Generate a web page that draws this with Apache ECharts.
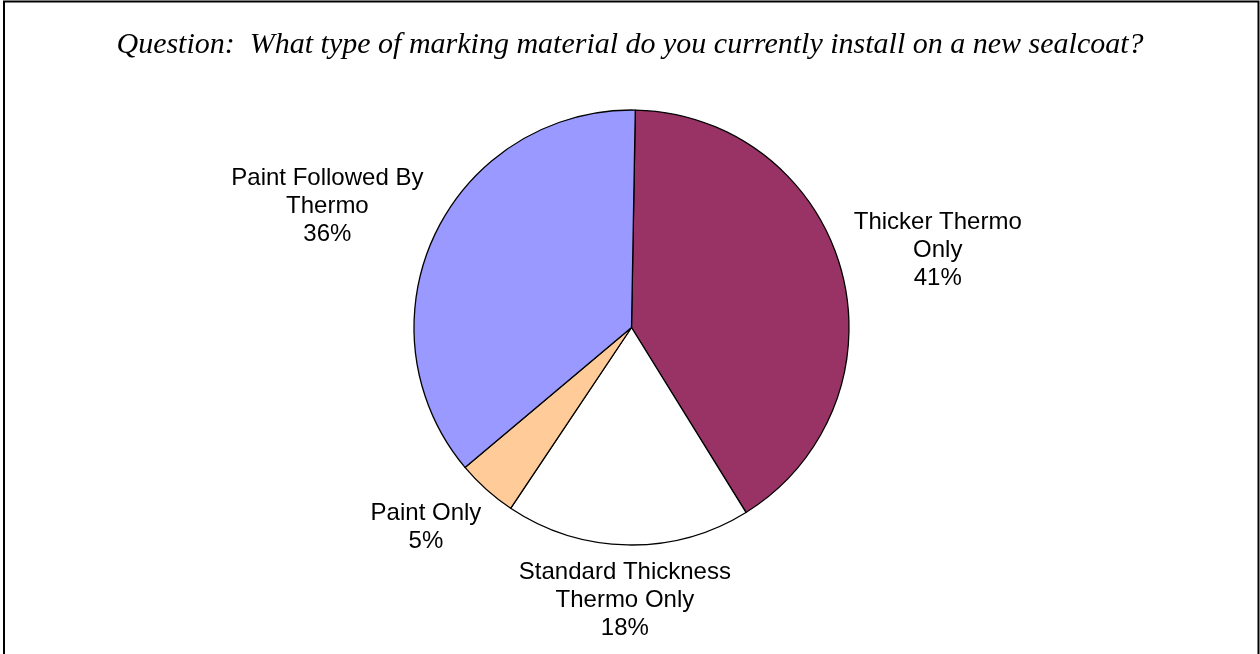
<!DOCTYPE html>
<html>
<head>
<meta charset="utf-8">
<script src="https://cdn.jsdelivr.net/npm/echarts@6/dist/echarts.min.js"></script>
<style>
html,body{margin:0;padding:0;background:#fff;}
#chart{width:1260px;height:654px;}
</style>
</head>
<body>
<div id="chart"></div>
<script>
// ---- data ----
var titleText = 'Question:  What type of marking material do you currently install on a new sealcoat?';
var categories = ['Thicker Thermo\nOnly', 'Standard Thickness\nThermo Only', 'Paint Only', 'Paint Followed By\nThermo'];
var values = [40.9, 18.2, 4.5, 36.4];
var colors = ['#993366', '#FFFFFF', '#FFCC99', '#9999FF'];

// ---- layout ----
var CX = 631.5, CY = 327.5, R = 217.5;
var START = 89;          // echarts start angle (deg, ccw from 3 o'clock)
var GAP = 13;            // distance of label anchor beyond pie edge
var K = 1.4;             // how fast label box shifts outward with angle

var chart = echarts.init(document.getElementById('chart'), null, {renderer: 'canvas'});

var total = values.reduce(function (a, b) { return a + b; }, 0);
function midAngle(i) {
  var cum = 0;
  for (var k = 0; k < i; k++) cum += values[k];
  return (90 - START) + 360 * (cum + values[i] / 2) / total; // clockwise from top, deg
}
function clamp1(v) { return Math.max(-1, Math.min(1, v)); }
function placeLabel(i, w, h) {
  var th = midAngle(i) * Math.PI / 180;
  var ux = Math.sin(th), uy = -Math.cos(th);
  var d = R + GAP;
  return {
    x: CX + ux * d + (w / 2) * clamp1(K * ux),
    y: CY + uy * d + (h / 2) * clamp1(K * uy) + (uy < -0.3 ? 3 : 0)
  };
}

var data = categories.map(function (c, i) {
  return {name: c, value: values[i], itemStyle: {color: colors[i]}};
});

chart.setOption({
  animation: false,
  backgroundColor: '#fff',
  title: {
    text: titleText,
    left: 'center',
    top: 25,
    textStyle: {
      fontFamily: '"Liberation Serif", "Times New Roman", serif',
      fontStyle: 'italic',
      fontWeight: 'normal',
      fontSize: 30,
      color: '#000'
    }
  },
  graphic: [{
    type: 'rect',
    shape: {x: 4, y: 1.5, width: 1254.5, height: 700},
    style: {fill: 'none', stroke: '#000', lineWidth: 2},
    silent: true,
    z: 100
  }],
  series: [{
    type: 'pie',
    center: [CX, CY],
    radius: R,
    startAngle: START,
    clockwise: true,
    avoidLabelOverlap: false,
    emphasis: {disabled: true},
    itemStyle: {borderColor: '#000', borderWidth: 1.3},
    labelLine: {show: false},
    label: {
      show: true,
      position: 'outside',
      fontFamily: '"Liberation Sans", Arial, sans-serif',
      fontSize: 24,
      lineHeight: 28,
      color: '#000',
      formatter: function (p) { return p.name + '\n' + Math.round(p.percent) + '%'; }
    },
    labelLayout: function (p) {
      var pos = placeLabel(p.dataIndex, p.labelRect.width, p.labelRect.height);
      return {x: pos.x, y: pos.y, align: 'center', verticalAlign: 'middle'};
    },
    data: data
  }]
});
</script>
</body>
</html>
